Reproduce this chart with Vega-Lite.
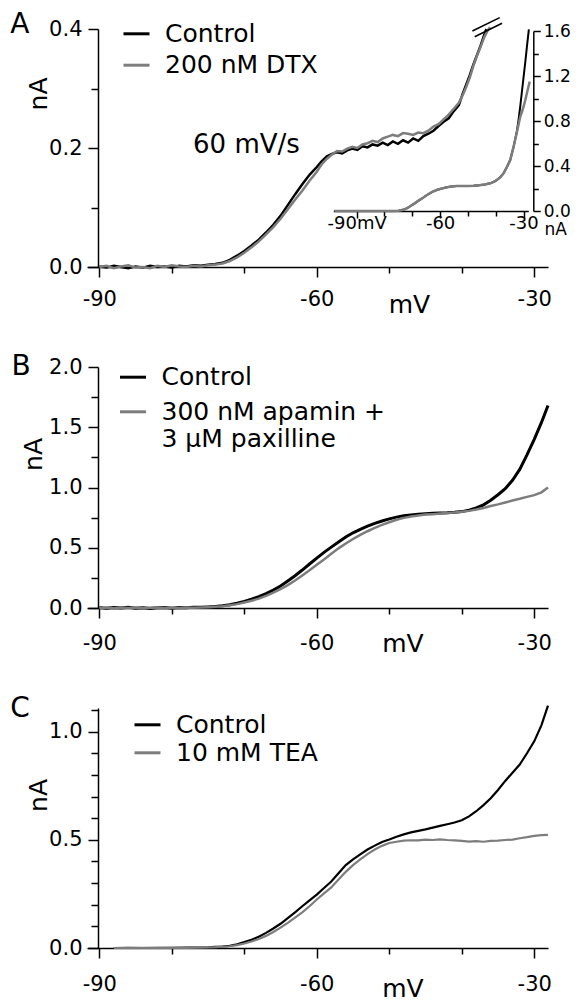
{
  "$schema": "https://vega.github.io/schema/vega-lite/v6.json",
  "background": "white",
  "padding": {"left": 10, "top": 11, "right": 5, "bottom": 5},
  "spacing": 100,
  "bounds": "flush",
  "config": {
    "view": {"stroke": null},
    "font": "DejaVu Sans",
    "axis": {"grid": false, "domainColor": "black", "tickColor": "black", "labelColor": "black", "titleColor": "black", "labelFont": "DejaVu Sans", "titleFont": "DejaVu Sans", "titleFontWeight": "normal", "domainWidth": 1.5, "tickWidth": 1.5, "labelFlush": false, "labelOverlap": false, "labelFontSize": 21, "titleFontSize": 25},
    "legend": {"symbolType": "stroke", "symbolSize": 676, "symbolStrokeWidth": 3, "labelFont": "DejaVu Sans", "labelFontSize": 25, "labelColor": "black", "labelOffset": 14, "labelLimit": 600, "padding": 0, "title": null},
    "text": {"font": "DejaVu Sans", "color": "black"}
  },
  "datasets": {
    "A_main": [
      {"series": "Control", "mV": -90, "nA": 0.001}, {"series": "Control", "mV": -89, "nA": -0.001}, {"series": "Control", "mV": -88, "nA": 0.002}, {"series": "Control", "mV": -87, "nA": 0.0}, {"series": "Control", "mV": -86, "nA": -0.002}, {"series": "Control", "mV": -85, "nA": 0.001}, {"series": "Control", "mV": -84, "nA": -0.001}, {"series": "Control", "mV": -83, "nA": 0.002}, {"series": "Control", "mV": -82, "nA": 0.0}, {"series": "Control", "mV": -81, "nA": 0.001}, {"series": "Control", "mV": -80, "nA": -0.001}, {"series": "Control", "mV": -79, "nA": 0.002}, {"series": "Control", "mV": -78, "nA": 0.001}, {"series": "Control", "mV": -77, "nA": 0.003}, {"series": "Control", "mV": -76, "nA": 0.002}, {"series": "Control", "mV": -75, "nA": 0.004}, {"series": "Control", "mV": -74, "nA": 0.005}, {"series": "Control", "mV": -73, "nA": 0.007}, {"series": "Control", "mV": -72, "nA": 0.012}, {"series": "Control", "mV": -71, "nA": 0.019}, {"series": "Control", "mV": -70, "nA": 0.027}, {"series": "Control", "mV": -69, "nA": 0.036}, {"series": "Control", "mV": -68, "nA": 0.046}, {"series": "Control", "mV": -67, "nA": 0.058}, {"series": "Control", "mV": -66, "nA": 0.071}, {"series": "Control", "mV": -65, "nA": 0.086}, {"series": "Control", "mV": -64, "nA": 0.104}, {"series": "Control", "mV": -63, "nA": 0.122}, {"series": "Control", "mV": -62, "nA": 0.139}, {"series": "Control", "mV": -61, "nA": 0.155}, {"series": "Control", "mV": -60, "nA": 0.168}, {"series": "Control", "mV": -59.3, "nA": 0.178}, {"series": "Control", "mV": -58.6, "nA": 0.186}, {"series": "Control", "mV": -57.9, "nA": 0.19}, {"series": "Control", "mV": -57.2, "nA": 0.193}, {"series": "Control", "mV": -56.5, "nA": 0.191}, {"series": "Control", "mV": -55.8, "nA": 0.196}, {"series": "Control", "mV": -55.1, "nA": 0.199}, {"series": "Control", "mV": -54.4, "nA": 0.197}, {"series": "Control", "mV": -53.7, "nA": 0.203}, {"series": "Control", "mV": -53.0, "nA": 0.201}, {"series": "Control", "mV": -52.3, "nA": 0.206}, {"series": "Control", "mV": -51.6, "nA": 0.204}, {"series": "Control", "mV": -50.9, "nA": 0.209}, {"series": "Control", "mV": -50.2, "nA": 0.205}, {"series": "Control", "mV": -49.5, "nA": 0.211}, {"series": "Control", "mV": -48.8, "nA": 0.207}, {"series": "Control", "mV": -48.1, "nA": 0.213}, {"series": "Control", "mV": -47.4, "nA": 0.209}, {"series": "Control", "mV": -46.7, "nA": 0.216}, {"series": "Control", "mV": -46.0, "nA": 0.212}, {"series": "Control", "mV": -45.3, "nA": 0.22}, {"series": "Control", "mV": -44.6, "nA": 0.224}, {"series": "Control", "mV": -43.9, "nA": 0.229}, {"series": "Control", "mV": -43.2, "nA": 0.237}, {"series": "Control", "mV": -42.5, "nA": 0.244}, {"series": "Control", "mV": -41.8, "nA": 0.25}, {"series": "Control", "mV": -41.1, "nA": 0.262}, {"series": "Control", "mV": -40.4, "nA": 0.272}, {"series": "Control", "mV": -39.9, "nA": 0.29}, {"series": "Control", "mV": -39.4, "nA": 0.306}, {"series": "Control", "mV": -38.9, "nA": 0.322}, {"series": "Control", "mV": -38.4, "nA": 0.34}, {"series": "Control", "mV": -37.9, "nA": 0.356}, {"series": "Control", "mV": -37.4, "nA": 0.372}, {"series": "Control", "mV": -36.9, "nA": 0.39}, {"series": "Control", "mV": -36.6, "nA": 0.4},
      {"series": "200 nM DTX", "mV": -90, "nA": 0.0}, {"series": "200 nM DTX", "mV": -89, "nA": 0.002}, {"series": "200 nM DTX", "mV": -88, "nA": -0.002}, {"series": "200 nM DTX", "mV": -87, "nA": 0.001}, {"series": "200 nM DTX", "mV": -86, "nA": 0.003}, {"series": "200 nM DTX", "mV": -85, "nA": -0.001}, {"series": "200 nM DTX", "mV": -84, "nA": 0.0}, {"series": "200 nM DTX", "mV": -83, "nA": -0.002}, {"series": "200 nM DTX", "mV": -82, "nA": 0.002}, {"series": "200 nM DTX", "mV": -81, "nA": 0.0}, {"series": "200 nM DTX", "mV": -80, "nA": 0.003}, {"series": "200 nM DTX", "mV": -79, "nA": 0.001}, {"series": "200 nM DTX", "mV": -78, "nA": 0.0}, {"series": "200 nM DTX", "mV": -77, "nA": 0.002}, {"series": "200 nM DTX", "mV": -76, "nA": 0.001}, {"series": "200 nM DTX", "mV": -75, "nA": 0.003}, {"series": "200 nM DTX", "mV": -74, "nA": 0.004}, {"series": "200 nM DTX", "mV": -73, "nA": 0.006}, {"series": "200 nM DTX", "mV": -72, "nA": 0.01}, {"series": "200 nM DTX", "mV": -71, "nA": 0.016}, {"series": "200 nM DTX", "mV": -70, "nA": 0.024}, {"series": "200 nM DTX", "mV": -69, "nA": 0.033}, {"series": "200 nM DTX", "mV": -68, "nA": 0.043}, {"series": "200 nM DTX", "mV": -67, "nA": 0.055}, {"series": "200 nM DTX", "mV": -66, "nA": 0.067}, {"series": "200 nM DTX", "mV": -65, "nA": 0.081}, {"series": "200 nM DTX", "mV": -64, "nA": 0.097}, {"series": "200 nM DTX", "mV": -63, "nA": 0.113}, {"series": "200 nM DTX", "mV": -62, "nA": 0.128}, {"series": "200 nM DTX", "mV": -61, "nA": 0.145}, {"series": "200 nM DTX", "mV": -60, "nA": 0.16}, {"series": "200 nM DTX", "mV": -59.3, "nA": 0.173}, {"series": "200 nM DTX", "mV": -58.6, "nA": 0.182}, {"series": "200 nM DTX", "mV": -57.9, "nA": 0.189}, {"series": "200 nM DTX", "mV": -57.2, "nA": 0.195}, {"series": "200 nM DTX", "mV": -56.5, "nA": 0.194}, {"series": "200 nM DTX", "mV": -55.8, "nA": 0.199}, {"series": "200 nM DTX", "mV": -55.1, "nA": 0.202}, {"series": "200 nM DTX", "mV": -54.4, "nA": 0.2}, {"series": "200 nM DTX", "mV": -53.7, "nA": 0.206}, {"series": "200 nM DTX", "mV": -53.0, "nA": 0.208}, {"series": "200 nM DTX", "mV": -52.3, "nA": 0.212}, {"series": "200 nM DTX", "mV": -51.6, "nA": 0.21}, {"series": "200 nM DTX", "mV": -50.9, "nA": 0.216}, {"series": "200 nM DTX", "mV": -50.2, "nA": 0.219}, {"series": "200 nM DTX", "mV": -49.5, "nA": 0.222}, {"series": "200 nM DTX", "mV": -48.8, "nA": 0.22}, {"series": "200 nM DTX", "mV": -48.1, "nA": 0.225}, {"series": "200 nM DTX", "mV": -47.4, "nA": 0.224}, {"series": "200 nM DTX", "mV": -46.7, "nA": 0.222}, {"series": "200 nM DTX", "mV": -46.0, "nA": 0.226}, {"series": "200 nM DTX", "mV": -45.3, "nA": 0.225}, {"series": "200 nM DTX", "mV": -44.6, "nA": 0.229}, {"series": "200 nM DTX", "mV": -43.9, "nA": 0.236}, {"series": "200 nM DTX", "mV": -43.2, "nA": 0.24}, {"series": "200 nM DTX", "mV": -42.5, "nA": 0.248}, {"series": "200 nM DTX", "mV": -41.8, "nA": 0.256}, {"series": "200 nM DTX", "mV": -41.1, "nA": 0.266}, {"series": "200 nM DTX", "mV": -40.4, "nA": 0.276}, {"series": "200 nM DTX", "mV": -39.9, "nA": 0.288}, {"series": "200 nM DTX", "mV": -39.4, "nA": 0.302}, {"series": "200 nM DTX", "mV": -38.9, "nA": 0.318}, {"series": "200 nM DTX", "mV": -38.4, "nA": 0.338}, {"series": "200 nM DTX", "mV": -37.9, "nA": 0.355}, {"series": "200 nM DTX", "mV": -37.4, "nA": 0.37}, {"series": "200 nM DTX", "mV": -36.9, "nA": 0.386}, {"series": "200 nM DTX", "mV": -36.4, "nA": 0.398}, {"series": "200 nM DTX", "mV": -36.1, "nA": 0.403}
    ],
    "A_inset": [
      {"series": "Control", "mV": -98, "nA": 0.0}, {"series": "Control", "mV": -95, "nA": 0.0}, {"series": "Control", "mV": -92, "nA": 0.001}, {"series": "Control", "mV": -89, "nA": 0.0}, {"series": "Control", "mV": -86, "nA": 0.001}, {"series": "Control", "mV": -83, "nA": 0.0}, {"series": "Control", "mV": -80, "nA": 0.0}, {"series": "Control", "mV": -77, "nA": 0.001}, {"series": "Control", "mV": -75, "nA": 0.003}, {"series": "Control", "mV": -74, "nA": 0.006}, {"series": "Control", "mV": -73, "nA": 0.013}, {"series": "Control", "mV": -72, "nA": 0.024}, {"series": "Control", "mV": -71, "nA": 0.038}, {"series": "Control", "mV": -70, "nA": 0.055}, {"series": "Control", "mV": -69, "nA": 0.07}, {"series": "Control", "mV": -68, "nA": 0.088}, {"series": "Control", "mV": -67, "nA": 0.104}, {"series": "Control", "mV": -66, "nA": 0.12}, {"series": "Control", "mV": -65, "nA": 0.138}, {"series": "Control", "mV": -64, "nA": 0.153}, {"series": "Control", "mV": -63, "nA": 0.167}, {"series": "Control", "mV": -62, "nA": 0.179}, {"series": "Control", "mV": -61, "nA": 0.189}, {"series": "Control", "mV": -60, "nA": 0.196}, {"series": "Control", "mV": -59, "nA": 0.202}, {"series": "Control", "mV": -58, "nA": 0.208}, {"series": "Control", "mV": -57, "nA": 0.213}, {"series": "Control", "mV": -56, "nA": 0.217}, {"series": "Control", "mV": -55, "nA": 0.22}, {"series": "Control", "mV": -54, "nA": 0.222}, {"series": "Control", "mV": -52, "nA": 0.222}, {"series": "Control", "mV": -50, "nA": 0.223}, {"series": "Control", "mV": -48, "nA": 0.224}, {"series": "Control", "mV": -46, "nA": 0.228}, {"series": "Control", "mV": -44, "nA": 0.235}, {"series": "Control", "mV": -42, "nA": 0.246}, {"series": "Control", "mV": -40.5, "nA": 0.262}, {"series": "Control", "mV": -39.6, "nA": 0.276}, {"series": "Control", "mV": -38.4, "nA": 0.3}, {"series": "Control", "mV": -37.2, "nA": 0.335}, {"series": "Control", "mV": -36, "nA": 0.39}, {"series": "Control", "mV": -34.8, "nA": 0.453}, {"series": "Control", "mV": -33.6, "nA": 0.57}, {"series": "Control", "mV": -32.4, "nA": 0.71}, {"series": "Control", "mV": -31.8, "nA": 0.81}, {"series": "Control", "mV": -31.2, "nA": 0.927}, {"series": "Control", "mV": -30.6, "nA": 1.06}, {"series": "Control", "mV": -30, "nA": 1.19}, {"series": "Control", "mV": -29.4, "nA": 1.32}, {"series": "Control", "mV": -28.8, "nA": 1.46}, {"series": "Control", "mV": -28.1, "nA": 1.615},
      {"series": "200 nM DTX", "mV": -98, "nA": 0.0}, {"series": "200 nM DTX", "mV": -95, "nA": 0.0}, {"series": "200 nM DTX", "mV": -92, "nA": 0.001}, {"series": "200 nM DTX", "mV": -89, "nA": 0.0}, {"series": "200 nM DTX", "mV": -86, "nA": 0.001}, {"series": "200 nM DTX", "mV": -83, "nA": 0.0}, {"series": "200 nM DTX", "mV": -80, "nA": 0.0}, {"series": "200 nM DTX", "mV": -77, "nA": 0.001}, {"series": "200 nM DTX", "mV": -75, "nA": 0.003}, {"series": "200 nM DTX", "mV": -74, "nA": 0.006}, {"series": "200 nM DTX", "mV": -73, "nA": 0.013}, {"series": "200 nM DTX", "mV": -72, "nA": 0.024}, {"series": "200 nM DTX", "mV": -71, "nA": 0.038}, {"series": "200 nM DTX", "mV": -70, "nA": 0.055}, {"series": "200 nM DTX", "mV": -69, "nA": 0.07}, {"series": "200 nM DTX", "mV": -68, "nA": 0.088}, {"series": "200 nM DTX", "mV": -67, "nA": 0.104}, {"series": "200 nM DTX", "mV": -66, "nA": 0.12}, {"series": "200 nM DTX", "mV": -65, "nA": 0.138}, {"series": "200 nM DTX", "mV": -64, "nA": 0.153}, {"series": "200 nM DTX", "mV": -63, "nA": 0.167}, {"series": "200 nM DTX", "mV": -62, "nA": 0.179}, {"series": "200 nM DTX", "mV": -61, "nA": 0.189}, {"series": "200 nM DTX", "mV": -60, "nA": 0.196}, {"series": "200 nM DTX", "mV": -59, "nA": 0.202}, {"series": "200 nM DTX", "mV": -58, "nA": 0.208}, {"series": "200 nM DTX", "mV": -57, "nA": 0.213}, {"series": "200 nM DTX", "mV": -56, "nA": 0.217}, {"series": "200 nM DTX", "mV": -55, "nA": 0.22}, {"series": "200 nM DTX", "mV": -54, "nA": 0.222}, {"series": "200 nM DTX", "mV": -52, "nA": 0.222}, {"series": "200 nM DTX", "mV": -50, "nA": 0.223}, {"series": "200 nM DTX", "mV": -48, "nA": 0.224}, {"series": "200 nM DTX", "mV": -46, "nA": 0.228}, {"series": "200 nM DTX", "mV": -44, "nA": 0.235}, {"series": "200 nM DTX", "mV": -42, "nA": 0.246}, {"series": "200 nM DTX", "mV": -40.5, "nA": 0.262}, {"series": "200 nM DTX", "mV": -39.6, "nA": 0.276}, {"series": "200 nM DTX", "mV": -38.4, "nA": 0.3}, {"series": "200 nM DTX", "mV": -37.2, "nA": 0.335}, {"series": "200 nM DTX", "mV": -36, "nA": 0.39}, {"series": "200 nM DTX", "mV": -34.8, "nA": 0.453}, {"series": "200 nM DTX", "mV": -33.6, "nA": 0.57}, {"series": "200 nM DTX", "mV": -32.4, "nA": 0.7}, {"series": "200 nM DTX", "mV": -31.8, "nA": 0.77}, {"series": "200 nM DTX", "mV": -31.2, "nA": 0.838}, {"series": "200 nM DTX", "mV": -30.6, "nA": 0.88}, {"series": "200 nM DTX", "mV": -30, "nA": 0.927}, {"series": "200 nM DTX", "mV": -29.4, "nA": 0.985}, {"series": "200 nM DTX", "mV": -28.8, "nA": 1.046}, {"series": "200 nM DTX", "mV": -28.3, "nA": 1.1}, {"series": "200 nM DTX", "mV": -27.8, "nA": 1.15}
    ],
    "B": [
      {"series": "Control", "mV": -90, "nA": 0.005}, {"series": "Control", "mV": -89, "nA": -0.003}, {"series": "Control", "mV": -88, "nA": 0.004}, {"series": "Control", "mV": -87, "nA": 0.0}, {"series": "Control", "mV": -86, "nA": 0.006}, {"series": "Control", "mV": -85, "nA": -0.002}, {"series": "Control", "mV": -84, "nA": 0.003}, {"series": "Control", "mV": -83, "nA": -0.004}, {"series": "Control", "mV": -82, "nA": 0.002}, {"series": "Control", "mV": -81, "nA": 0.005}, {"series": "Control", "mV": -80, "nA": -0.001}, {"series": "Control", "mV": -79, "nA": 0.004}, {"series": "Control", "mV": -78, "nA": 0.002}, {"series": "Control", "mV": -77, "nA": 0.006}, {"series": "Control", "mV": -76, "nA": 0.007}, {"series": "Control", "mV": -75, "nA": 0.009}, {"series": "Control", "mV": -74, "nA": 0.012}, {"series": "Control", "mV": -73, "nA": 0.018}, {"series": "Control", "mV": -72, "nA": 0.027}, {"series": "Control", "mV": -71, "nA": 0.04}, {"series": "Control", "mV": -70, "nA": 0.055}, {"series": "Control", "mV": -69, "nA": 0.073}, {"series": "Control", "mV": -68, "nA": 0.095}, {"series": "Control", "mV": -67, "nA": 0.12}, {"series": "Control", "mV": -66, "nA": 0.148}, {"series": "Control", "mV": -65, "nA": 0.182}, {"series": "Control", "mV": -64, "nA": 0.224}, {"series": "Control", "mV": -63, "nA": 0.268}, {"series": "Control", "mV": -62, "nA": 0.315}, {"series": "Control", "mV": -61, "nA": 0.365}, {"series": "Control", "mV": -60, "nA": 0.414}, {"series": "Control", "mV": -59, "nA": 0.462}, {"series": "Control", "mV": -58, "nA": 0.505}, {"series": "Control", "mV": -57, "nA": 0.548}, {"series": "Control", "mV": -56, "nA": 0.589}, {"series": "Control", "mV": -55, "nA": 0.624}, {"series": "Control", "mV": -54, "nA": 0.653}, {"series": "Control", "mV": -53, "nA": 0.679}, {"series": "Control", "mV": -52, "nA": 0.702}, {"series": "Control", "mV": -51, "nA": 0.722}, {"series": "Control", "mV": -50, "nA": 0.74}, {"series": "Control", "mV": -49, "nA": 0.754}, {"series": "Control", "mV": -48, "nA": 0.765}, {"series": "Control", "mV": -47, "nA": 0.772}, {"series": "Control", "mV": -46, "nA": 0.778}, {"series": "Control", "mV": -45, "nA": 0.783}, {"series": "Control", "mV": -44, "nA": 0.787}, {"series": "Control", "mV": -43, "nA": 0.789}, {"series": "Control", "mV": -42, "nA": 0.79}, {"series": "Control", "mV": -41, "nA": 0.794}, {"series": "Control", "mV": -40, "nA": 0.8}, {"series": "Control", "mV": -39, "nA": 0.812}, {"series": "Control", "mV": -38, "nA": 0.83}, {"series": "Control", "mV": -37, "nA": 0.856}, {"series": "Control", "mV": -36, "nA": 0.895}, {"series": "Control", "mV": -35, "nA": 0.94}, {"series": "Control", "mV": -34, "nA": 0.99}, {"series": "Control", "mV": -33, "nA": 1.06}, {"series": "Control", "mV": -32, "nA": 1.15}, {"series": "Control", "mV": -31, "nA": 1.27}, {"series": "Control", "mV": -30, "nA": 1.4}, {"series": "Control", "mV": -29, "nA": 1.54}, {"series": "Control", "mV": -28.1, "nA": 1.68},
      {"series": "300 nM apamin + 3 μM paxilline", "mV": -90, "nA": 0.002}, {"series": "300 nM apamin + 3 μM paxilline", "mV": -89, "nA": 0.004}, {"series": "300 nM apamin + 3 μM paxilline", "mV": -88, "nA": -0.003}, {"series": "300 nM apamin + 3 μM paxilline", "mV": -87, "nA": 0.003}, {"series": "300 nM apamin + 3 μM paxilline", "mV": -86, "nA": 0.0}, {"series": "300 nM apamin + 3 μM paxilline", "mV": -85, "nA": 0.004}, {"series": "300 nM apamin + 3 μM paxilline", "mV": -84, "nA": -0.002}, {"series": "300 nM apamin + 3 μM paxilline", "mV": -83, "nA": 0.002}, {"series": "300 nM apamin + 3 μM paxilline", "mV": -82, "nA": 0.005}, {"series": "300 nM apamin + 3 μM paxilline", "mV": -81, "nA": 0.0}, {"series": "300 nM apamin + 3 μM paxilline", "mV": -80, "nA": 0.003}, {"series": "300 nM apamin + 3 μM paxilline", "mV": -79, "nA": 0.001}, {"series": "300 nM apamin + 3 μM paxilline", "mV": -78, "nA": 0.004}, {"series": "300 nM apamin + 3 μM paxilline", "mV": -77, "nA": 0.003}, {"series": "300 nM apamin + 3 μM paxilline", "mV": -76, "nA": 0.005}, {"series": "300 nM apamin + 3 μM paxilline", "mV": -75, "nA": 0.007}, {"series": "300 nM apamin + 3 μM paxilline", "mV": -74, "nA": 0.01}, {"series": "300 nM apamin + 3 μM paxilline", "mV": -73, "nA": 0.015}, {"series": "300 nM apamin + 3 μM paxilline", "mV": -72, "nA": 0.022}, {"series": "300 nM apamin + 3 μM paxilline", "mV": -71, "nA": 0.032}, {"series": "300 nM apamin + 3 μM paxilline", "mV": -70, "nA": 0.045}, {"series": "300 nM apamin + 3 μM paxilline", "mV": -69, "nA": 0.06}, {"series": "300 nM apamin + 3 μM paxilline", "mV": -68, "nA": 0.078}, {"series": "300 nM apamin + 3 μM paxilline", "mV": -67, "nA": 0.1}, {"series": "300 nM apamin + 3 μM paxilline", "mV": -66, "nA": 0.127}, {"series": "300 nM apamin + 3 μM paxilline", "mV": -65, "nA": 0.157}, {"series": "300 nM apamin + 3 μM paxilline", "mV": -64, "nA": 0.19}, {"series": "300 nM apamin + 3 μM paxilline", "mV": -63, "nA": 0.228}, {"series": "300 nM apamin + 3 μM paxilline", "mV": -62, "nA": 0.27}, {"series": "300 nM apamin + 3 μM paxilline", "mV": -61, "nA": 0.314}, {"series": "300 nM apamin + 3 μM paxilline", "mV": -60, "nA": 0.359}, {"series": "300 nM apamin + 3 μM paxilline", "mV": -59, "nA": 0.403}, {"series": "300 nM apamin + 3 μM paxilline", "mV": -58, "nA": 0.45}, {"series": "300 nM apamin + 3 μM paxilline", "mV": -57, "nA": 0.495}, {"series": "300 nM apamin + 3 μM paxilline", "mV": -56, "nA": 0.535}, {"series": "300 nM apamin + 3 μM paxilline", "mV": -55, "nA": 0.573}, {"series": "300 nM apamin + 3 μM paxilline", "mV": -54, "nA": 0.607}, {"series": "300 nM apamin + 3 μM paxilline", "mV": -53, "nA": 0.637}, {"series": "300 nM apamin + 3 μM paxilline", "mV": -52, "nA": 0.665}, {"series": "300 nM apamin + 3 μM paxilline", "mV": -51, "nA": 0.69}, {"series": "300 nM apamin + 3 μM paxilline", "mV": -50, "nA": 0.712}, {"series": "300 nM apamin + 3 μM paxilline", "mV": -49, "nA": 0.732}, {"series": "300 nM apamin + 3 μM paxilline", "mV": -48, "nA": 0.748}, {"series": "300 nM apamin + 3 μM paxilline", "mV": -47, "nA": 0.76}, {"series": "300 nM apamin + 3 μM paxilline", "mV": -46, "nA": 0.768}, {"series": "300 nM apamin + 3 μM paxilline", "mV": -45, "nA": 0.775}, {"series": "300 nM apamin + 3 μM paxilline", "mV": -44, "nA": 0.779}, {"series": "300 nM apamin + 3 μM paxilline", "mV": -43, "nA": 0.784}, {"series": "300 nM apamin + 3 μM paxilline", "mV": -42, "nA": 0.788}, {"series": "300 nM apamin + 3 μM paxilline", "mV": -41, "nA": 0.793}, {"series": "300 nM apamin + 3 μM paxilline", "mV": -40, "nA": 0.799}, {"series": "300 nM apamin + 3 μM paxilline", "mV": -39, "nA": 0.806}, {"series": "300 nM apamin + 3 μM paxilline", "mV": -38, "nA": 0.817}, {"series": "300 nM apamin + 3 μM paxilline", "mV": -37, "nA": 0.83}, {"series": "300 nM apamin + 3 μM paxilline", "mV": -36, "nA": 0.846}, {"series": "300 nM apamin + 3 μM paxilline", "mV": -35, "nA": 0.86}, {"series": "300 nM apamin + 3 μM paxilline", "mV": -34, "nA": 0.876}, {"series": "300 nM apamin + 3 μM paxilline", "mV": -33, "nA": 0.892}, {"series": "300 nM apamin + 3 μM paxilline", "mV": -32, "nA": 0.906}, {"series": "300 nM apamin + 3 μM paxilline", "mV": -31, "nA": 0.922}, {"series": "300 nM apamin + 3 μM paxilline", "mV": -30, "nA": 0.937}, {"series": "300 nM apamin + 3 μM paxilline", "mV": -29, "nA": 0.96}, {"series": "300 nM apamin + 3 μM paxilline", "mV": -28.1, "nA": 1.0}
    ],
    "C": [
      {"series": "Control", "mV": -88, "nA": 0.0}, {"series": "Control", "mV": -86, "nA": 0.001}, {"series": "Control", "mV": -84, "nA": 0.0}, {"series": "Control", "mV": -82, "nA": 0.001}, {"series": "Control", "mV": -80, "nA": 0.001}, {"series": "Control", "mV": -78, "nA": 0.002}, {"series": "Control", "mV": -76, "nA": 0.002}, {"series": "Control", "mV": -75, "nA": 0.003}, {"series": "Control", "mV": -74, "nA": 0.005}, {"series": "Control", "mV": -73, "nA": 0.007}, {"series": "Control", "mV": -72, "nA": 0.01}, {"series": "Control", "mV": -71, "nA": 0.017}, {"series": "Control", "mV": -70, "nA": 0.027}, {"series": "Control", "mV": -69, "nA": 0.038}, {"series": "Control", "mV": -68, "nA": 0.052}, {"series": "Control", "mV": -67, "nA": 0.07}, {"series": "Control", "mV": -66, "nA": 0.09}, {"series": "Control", "mV": -65, "nA": 0.112}, {"series": "Control", "mV": -64, "nA": 0.138}, {"series": "Control", "mV": -63, "nA": 0.165}, {"series": "Control", "mV": -62, "nA": 0.193}, {"series": "Control", "mV": -61, "nA": 0.22}, {"series": "Control", "mV": -60, "nA": 0.247}, {"series": "Control", "mV": -59, "nA": 0.277}, {"series": "Control", "mV": -58, "nA": 0.307}, {"series": "Control", "mV": -57, "nA": 0.345}, {"series": "Control", "mV": -56, "nA": 0.383}, {"series": "Control", "mV": -55, "nA": 0.41}, {"series": "Control", "mV": -54, "nA": 0.433}, {"series": "Control", "mV": -53, "nA": 0.455}, {"series": "Control", "mV": -52, "nA": 0.473}, {"series": "Control", "mV": -51, "nA": 0.49}, {"series": "Control", "mV": -50, "nA": 0.501}, {"series": "Control", "mV": -49, "nA": 0.514}, {"series": "Control", "mV": -48, "nA": 0.525}, {"series": "Control", "mV": -47, "nA": 0.534}, {"series": "Control", "mV": -46, "nA": 0.541}, {"series": "Control", "mV": -45, "nA": 0.548}, {"series": "Control", "mV": -44, "nA": 0.556}, {"series": "Control", "mV": -43, "nA": 0.564}, {"series": "Control", "mV": -42, "nA": 0.572}, {"series": "Control", "mV": -41, "nA": 0.58}, {"series": "Control", "mV": -40, "nA": 0.59}, {"series": "Control", "mV": -39, "nA": 0.608}, {"series": "Control", "mV": -38, "nA": 0.632}, {"series": "Control", "mV": -37, "nA": 0.66}, {"series": "Control", "mV": -36, "nA": 0.692}, {"series": "Control", "mV": -35, "nA": 0.73}, {"series": "Control", "mV": -34, "nA": 0.772}, {"series": "Control", "mV": -33, "nA": 0.81}, {"series": "Control", "mV": -32, "nA": 0.848}, {"series": "Control", "mV": -31, "nA": 0.9}, {"series": "Control", "mV": -30, "nA": 0.955}, {"series": "Control", "mV": -29, "nA": 1.03}, {"series": "Control", "mV": -28.1, "nA": 1.12},
      {"series": "10 mM TEA", "mV": -88, "nA": 0.0}, {"series": "10 mM TEA", "mV": -86, "nA": 0.0}, {"series": "10 mM TEA", "mV": -84, "nA": 0.001}, {"series": "10 mM TEA", "mV": -82, "nA": 0.0}, {"series": "10 mM TEA", "mV": -80, "nA": 0.001}, {"series": "10 mM TEA", "mV": -78, "nA": 0.001}, {"series": "10 mM TEA", "mV": -76, "nA": 0.002}, {"series": "10 mM TEA", "mV": -75, "nA": 0.003}, {"series": "10 mM TEA", "mV": -74, "nA": 0.004}, {"series": "10 mM TEA", "mV": -73, "nA": 0.006}, {"series": "10 mM TEA", "mV": -72, "nA": 0.008}, {"series": "10 mM TEA", "mV": -71, "nA": 0.013}, {"series": "10 mM TEA", "mV": -70, "nA": 0.021}, {"series": "10 mM TEA", "mV": -69, "nA": 0.03}, {"series": "10 mM TEA", "mV": -68, "nA": 0.042}, {"series": "10 mM TEA", "mV": -67, "nA": 0.056}, {"series": "10 mM TEA", "mV": -66, "nA": 0.074}, {"series": "10 mM TEA", "mV": -65, "nA": 0.094}, {"series": "10 mM TEA", "mV": -64, "nA": 0.116}, {"series": "10 mM TEA", "mV": -63, "nA": 0.14}, {"series": "10 mM TEA", "mV": -62, "nA": 0.165}, {"series": "10 mM TEA", "mV": -61, "nA": 0.193}, {"series": "10 mM TEA", "mV": -60, "nA": 0.224}, {"series": "10 mM TEA", "mV": -59, "nA": 0.252}, {"series": "10 mM TEA", "mV": -58, "nA": 0.28}, {"series": "10 mM TEA", "mV": -57, "nA": 0.316}, {"series": "10 mM TEA", "mV": -56, "nA": 0.352}, {"series": "10 mM TEA", "mV": -55, "nA": 0.383}, {"series": "10 mM TEA", "mV": -54, "nA": 0.41}, {"series": "10 mM TEA", "mV": -53, "nA": 0.434}, {"series": "10 mM TEA", "mV": -52, "nA": 0.455}, {"series": "10 mM TEA", "mV": -51, "nA": 0.472}, {"series": "10 mM TEA", "mV": -50, "nA": 0.485}, {"series": "10 mM TEA", "mV": -49, "nA": 0.491}, {"series": "10 mM TEA", "mV": -48, "nA": 0.496}, {"series": "10 mM TEA", "mV": -47, "nA": 0.498}, {"series": "10 mM TEA", "mV": -46, "nA": 0.497}, {"series": "10 mM TEA", "mV": -45, "nA": 0.501}, {"series": "10 mM TEA", "mV": -44, "nA": 0.499}, {"series": "10 mM TEA", "mV": -43, "nA": 0.502}, {"series": "10 mM TEA", "mV": -42, "nA": 0.499}, {"series": "10 mM TEA", "mV": -41, "nA": 0.497}, {"series": "10 mM TEA", "mV": -40, "nA": 0.495}, {"series": "10 mM TEA", "mV": -39, "nA": 0.492}, {"series": "10 mM TEA", "mV": -38, "nA": 0.494}, {"series": "10 mM TEA", "mV": -37, "nA": 0.491}, {"series": "10 mM TEA", "mV": -36, "nA": 0.495}, {"series": "10 mM TEA", "mV": -35, "nA": 0.496}, {"series": "10 mM TEA", "mV": -34, "nA": 0.499}, {"series": "10 mM TEA", "mV": -33, "nA": 0.501}, {"series": "10 mM TEA", "mV": -32, "nA": 0.507}, {"series": "10 mM TEA", "mV": -31, "nA": 0.512}, {"series": "10 mM TEA", "mV": -30, "nA": 0.518}, {"series": "10 mM TEA", "mV": -29, "nA": 0.522}, {"series": "10 mM TEA", "mV": -28.1, "nA": 0.523}
    ]
  },
  "resolve": {"scale": {"color": "independent"}, "legend": {"color": "independent"}},
  "vconcat": [
    {
      "width": 461, "height": 238,
      "resolve": {"scale": {"x": "independent", "y": "independent"}},
      "layer": [
        {
          "data": {"name": "A_main"},
          "transform": [{"filter": "datum.series == 'Control'"}],
          "mark": {"type": "line", "strokeWidth": 2.5},
          "encoding": {
            "x": {"field": "mV", "type": "quantitative", "scale": {"domain": [-91.7, -28.1], "nice": false, "zero": false},
              "axis": {"orient": "bottom", "values": [-90, -60, -30], "labelExpr": "'' + datum.value", "title": "mV", "titleX": 322, "titleY": 37, "titleBaseline": "middle", "titleAlign": "center", "tickSize": 10, "labelPadding": 11.7}},
            "y": {"field": "nA", "type": "quantitative", "scale": {"domain": [0, 0.4], "nice": false, "zero": false},
              "axis": {"orient": "left", "offset": -11, "values": [0, 0.2, 0.4], "format": ".1f", "title": "nA", "titleX": -60, "titleY": 64.5, "titleBaseline": "middle", "titleAlign": "center", "tickSize": 10, "labelPadding": 6}},
            "color": {"field": "series", "type": "nominal", "scale": {"domain": ["Control", "200 nM DTX"], "range": ["#000000", "#7d7d7d"]},
              "legend": {"orient": "none", "legendX": 35, "legendY": -9.7, "rowPadding": 3.4}}
          }
        },
        {
          "data": {"name": "A_main"},
          "transform": [{"filter": "datum.series == '200 nM DTX'"}],
          "mark": {"type": "line", "strokeWidth": 2.5},
          "encoding": {
            "x": {"field": "mV", "type": "quantitative", "scale": {"domain": [-91.7, -28.1], "nice": false, "zero": false},
              "axis": {"orient": "bottom", "values": [-80, -70, -50, -40], "labels": false, "domain": false, "title": null, "tickSize": 6}},
            "y": {"field": "nA", "type": "quantitative", "scale": {"domain": [0, 0.4], "nice": false, "zero": false},
              "axis": {"orient": "left", "offset": -11, "values": [0.1, 0.3], "labels": false, "domain": false, "title": null, "tickSize": 7}},
            "color": {"field": "series", "type": "nominal", "scale": {"domain": ["Control", "200 nM DTX"], "range": ["#000000", "#7d7d7d"]}}
          }
        },
        {
          "data": {"name": "A_inset"},
          "transform": [{"filter": "datum.series == 'Control'"}],
          "mark": {"type": "line", "strokeWidth": 2},
          "encoding": {
            "x": {"field": "mV", "type": "quantitative", "scale": {"domain": [-98.4, -28.3], "range": [246.3, 441.3], "nice": false, "zero": false},
              "axis": {"orient": "bottom", "offset": -56, "values": [-90, -60, -30], "labelExpr": "datum.value == -90 ? '-90mV' : '' + datum.value", "title": null, "tickSize": 7, "labelPadding": -4, "labelFontSize": 18}},
            "y": {"field": "nA", "type": "quantitative", "scale": {"domain": [0, 1.6], "range": [182, 2], "nice": false, "zero": false},
              "axis": {"orient": "right", "offset": -14.7, "values": [0, 0.4, 0.8, 1.2, 1.6], "format": ".1f", "title": "nA", "titleAngle": 0, "titleX": 10.7, "titleY": 205, "titleAlign": "left", "titleBaseline": "alphabetic", "titleFontSize": 17, "tickSize": 7, "labelPadding": 3, "labelFontSize": 17}},
            "color": {"field": "series", "type": "nominal", "scale": {"domain": ["Control", "200 nM DTX"], "range": ["#000000", "#7d7d7d"]}}
          }
        },
        {
          "data": {"name": "A_inset"},
          "transform": [{"filter": "datum.series == '200 nM DTX'"}],
          "mark": {"type": "line", "strokeWidth": 2.5},
          "encoding": {
            "x": {"field": "mV", "type": "quantitative", "scale": {"domain": [-98.4, -28.3], "range": [246.3, 441.3], "nice": false, "zero": false},
              "axis": {"orient": "bottom", "offset": -56, "values": [-80, -70, -50, -40], "labels": false, "domain": false, "title": null, "tickSize": 5}},
            "y": {"field": "nA", "type": "quantitative", "scale": {"domain": [0, 1.6], "range": [182, 2], "nice": false, "zero": false},
              "axis": {"orient": "right", "offset": -14.7, "values": [0.2, 0.6, 1.0, 1.4], "labels": false, "domain": false, "title": null, "tickSize": 5}},
            "color": {"field": "series", "type": "nominal", "scale": {"domain": ["Control", "200 nM DTX"], "range": ["#000000", "#7d7d7d"]}}
          }
        },
        {
          "data": {"values": [{}]},
          "mark": {"type": "text", "text": "60 mV/s", "fontSize": 26, "align": "center", "baseline": "middle"},
          "encoding": {
            "x": {"datum": -69.7, "type": "quantitative", "scale": {"domain": [-91.7, -28.1], "nice": false, "zero": false}, "axis": null},
            "y": {"datum": 0.205, "type": "quantitative", "scale": {"domain": [0, 0.4], "nice": false, "zero": false}, "axis": null}
          }
        },
        {
          "data": {"values": [{}]},
          "mark": {"type": "rule", "strokeWidth": 1.5, "color": "black"},
          "encoding": {
            "x": {"datum": -38.53, "type": "quantitative", "scale": {"domain": [-91.7, -28.1], "nice": false, "zero": false}, "axis": null},
            "x2": {"datum": -34.76},
            "y": {"datum": 0.3966, "type": "quantitative", "scale": {"domain": [0, 0.4], "nice": false, "zero": false}, "axis": null},
            "y2": {"datum": 0.419}
          }
        },
        {
          "data": {"values": [{}]},
          "mark": {"type": "rule", "strokeWidth": 1.5, "color": "black"},
          "encoding": {
            "x": {"datum": -38.21, "type": "quantitative", "scale": {"domain": [-91.7, -28.1], "nice": false, "zero": false}, "axis": null},
            "x2": {"datum": -34.44},
            "y": {"datum": 0.387, "type": "quantitative", "scale": {"domain": [0, 0.4], "nice": false, "zero": false}, "axis": null},
            "y2": {"datum": 0.4096}
          }
        },
        {
          "data": {"values": [{}]},
          "mark": {"type": "text", "text": "A", "fontSize": 28, "align": "left", "baseline": "alphabetic"},
          "encoding": {
            "x": {"datum": -102.3, "type": "quantitative", "scale": {"domain": [-91.7, -28.1], "nice": false, "zero": false}, "axis": null},
            "y": {"datum": 0.393, "type": "quantitative", "scale": {"domain": [0, 0.4], "nice": false, "zero": false}, "axis": null}
          }
        }
      ]
    },
    {
      "width": 461, "height": 241,
      "resolve": {"scale": {"x": "independent", "y": "independent"}},
      "layer": [
        {
          "data": {"name": "B"},
          "transform": [{"filter": "datum.series == 'Control'"}],
          "mark": {"type": "line", "strokeWidth": 3},
          "encoding": {
            "x": {"field": "mV", "type": "quantitative", "scale": {"domain": [-91.7, -28.1], "nice": false, "zero": false},
              "axis": {"orient": "bottom", "values": [-90, -60, -30], "labelExpr": "'' + datum.value", "title": "mV", "titleX": 315.5, "titleY": 35, "titleBaseline": "middle", "titleAlign": "center", "tickSize": 10, "labelPadding": 14}},
            "y": {"field": "nA", "type": "quantitative", "scale": {"domain": [0, 2], "nice": false, "zero": false},
              "axis": {"orient": "left", "offset": -11, "values": [0, 0.5, 1.0, 1.5, 2.0], "format": ".1f", "title": "nA", "titleX": -64.7, "titleY": 87, "titleBaseline": "middle", "titleAlign": "center", "tickSize": 10, "labelPadding": 6}},
            "color": {"field": "series", "type": "nominal", "scale": {"domain": ["Control", "300 nM apamin + 3 μM paxilline"], "range": ["#000000", "#7d7d7d"]},
              "legend": {"orient": "none", "legendX": 31.5, "legendY": -4.3, "rowPadding": 6.6, "labelExpr": "datum.value == 'Control' ? 'Control' : ['300 nM apamin +', '3 μM paxilline']"}}
          }
        },
        {
          "data": {"name": "B"},
          "transform": [{"filter": "datum.series != 'Control'"}],
          "mark": {"type": "line", "strokeWidth": 2.5},
          "encoding": {
            "x": {"field": "mV", "type": "quantitative", "scale": {"domain": [-91.7, -28.1], "nice": false, "zero": false},
              "axis": {"orient": "bottom", "values": [-80, -70, -50, -40], "labels": false, "domain": false, "title": null, "tickSize": 6}},
            "y": {"field": "nA", "type": "quantitative", "scale": {"domain": [0, 2], "nice": false, "zero": false},
              "axis": {"orient": "left", "offset": -11, "values": [0.25, 0.75, 1.25, 1.75], "labels": false, "domain": false, "title": null, "tickSize": 7}},
            "color": {"field": "series", "type": "nominal", "scale": {"domain": ["Control", "300 nM apamin + 3 μM paxilline"], "range": ["#000000", "#7d7d7d"]}}
          }
        },
        {
          "data": {"values": [{}]},
          "mark": {"type": "text", "text": "B", "fontSize": 28, "align": "left", "baseline": "alphabetic"},
          "encoding": {
            "x": {"datum": -102.1, "type": "quantitative", "scale": {"domain": [-91.7, -28.1], "nice": false, "zero": false}, "axis": null},
            "y": {"datum": 1.934, "type": "quantitative", "scale": {"domain": [0, 2], "nice": false, "zero": false}, "axis": null}
          }
        }
      ]
    },
    {
      "width": 461, "height": 240,
      "resolve": {"scale": {"x": "independent", "y": "independent"}},
      "layer": [
        {
          "data": {"name": "C"},
          "transform": [{"filter": "datum.series == 'Control'"}],
          "mark": {"type": "line", "strokeWidth": 2.2},
          "encoding": {
            "x": {"field": "mV", "type": "quantitative", "scale": {"domain": [-91.7, -28.1], "nice": false, "zero": false},
              "axis": {"orient": "bottom", "values": [-90, -60, -30], "labelExpr": "'' + datum.value", "title": "mV", "titleX": 315.5, "titleY": 40, "titleBaseline": "middle", "titleAlign": "center", "tickSize": 10, "labelPadding": 15.7}},
            "y": {"field": "nA", "type": "quantitative", "scale": {"domain": [0, 1.109], "nice": false, "zero": false},
              "axis": {"orient": "left", "offset": -11, "values": [0, 0.5, 1.0], "format": ".1f", "title": "nA", "titleX": -59.7, "titleY": 87, "titleBaseline": "middle", "titleAlign": "center", "tickSize": 10, "labelPadding": 6}},
            "color": {"field": "series", "type": "nominal", "scale": {"domain": ["Control", "10 mM TEA"], "range": ["#000000", "#7d7d7d"]},
              "legend": {"orient": "none", "legendX": 46, "legendY": 2.3, "rowPadding": -1}}
          }
        },
        {
          "data": {"name": "C"},
          "transform": [{"filter": "datum.series == '10 mM TEA'"}],
          "mark": {"type": "line", "strokeWidth": 2.2},
          "encoding": {
            "x": {"field": "mV", "type": "quantitative", "scale": {"domain": [-91.7, -28.1], "nice": false, "zero": false},
              "axis": {"orient": "bottom", "values": [-80, -70, -50, -40], "labels": false, "domain": false, "title": null, "tickSize": 6}},
            "y": {"field": "nA", "type": "quantitative", "scale": {"domain": [0, 1.109], "nice": false, "zero": false},
              "axis": {"orient": "left", "offset": -11, "values": [0.1, 0.2, 0.3, 0.4, 0.6, 0.7, 0.8, 0.9, 1.1], "labels": false, "domain": false, "title": null, "tickSize": 7}},
            "color": {"field": "series", "type": "nominal", "scale": {"domain": ["Control", "10 mM TEA"], "range": ["#000000", "#7d7d7d"]}}
          }
        },
        {
          "data": {"values": [{}]},
          "mark": {"type": "text", "text": "C", "fontSize": 28, "align": "left", "baseline": "alphabetic"},
          "encoding": {
            "x": {"datum": -102.3, "type": "quantitative", "scale": {"domain": [-91.7, -28.1], "nice": false, "zero": false}, "axis": null},
            "y": {"datum": 1.069, "type": "quantitative", "scale": {"domain": [0, 1.109], "nice": false, "zero": false}, "axis": null}
          }
        }
      ]
    }
  ]
}
